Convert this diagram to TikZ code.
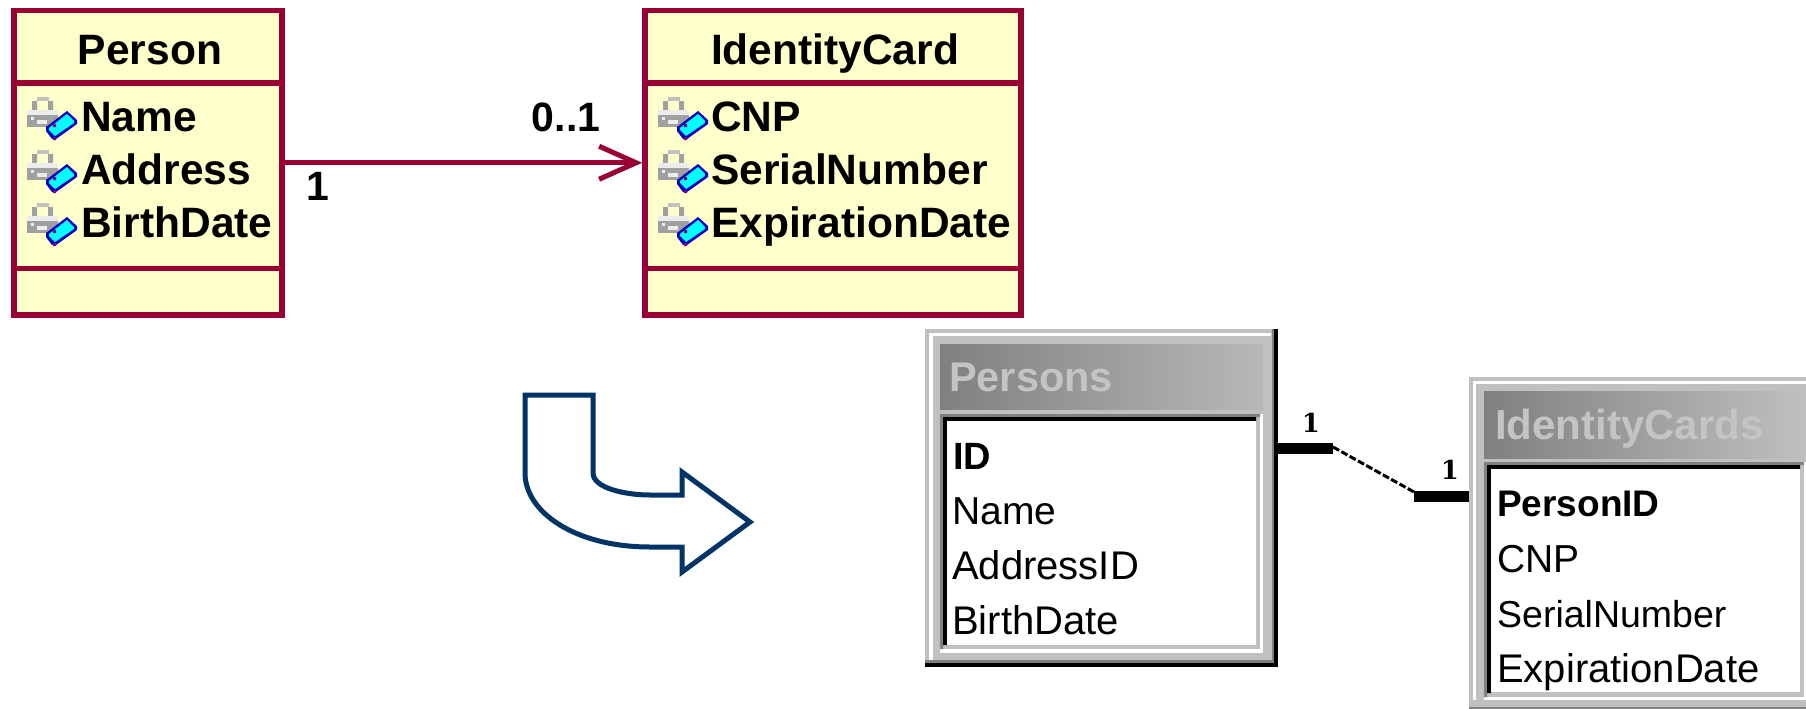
\documentclass[tikz,border=0pt]{standalone}
\usepackage{fontspec}
\setmainfont{Liberation Sans}
\newfontfamily\oneface{DejaVu Serif}
\usetikzlibrary{arrows.meta,shadings}
\definecolor{umlline}{HTML}{990033}
\definecolor{umlfill}{HTML}{FFFFCC}
\definecolor{bendblue}{HTML}{003366}
\definecolor{wgrey}{HTML}{C0C0C0}
\definecolor{wdark}{HTML}{808080}
\definecolor{wtitle}{HTML}{C4C4C4}
\definecolor{keyblue}{HTML}{0000C0}
\definecolor{keycyan}{HTML}{00FFFF}
\definecolor{keyviolet}{HTML}{800080}
\definecolor{icondark}{HTML}{A0A0A0}
\definecolor{iconmid}{HTML}{C0C0C0}
\definecolor{iconlight}{HTML}{ECECEC}
\newcommand{\fs}[1]{\fontsize{#1}{#1}\selectfont}
\tikzset{
  classbox/.style={draw=umlline,fill=umlfill,line width=5.5pt,inner sep=0pt,minimum height=304.5pt},
  divider/.style={draw=umlline,line width=5.5pt},
  umltext/.style={inner sep=0pt,anchor=base west,font=\fs{42.5}\bfseries},
  umltitle/.style={inner sep=0pt,anchor=base,font=\fs{42.5}\bfseries},
  multi/.style={inner sep=0pt,anchor=base,font=\fs{41}\bfseries},
  assoc/.style={draw=umlline,line width=5pt},
  tabletext/.style={inner sep=0pt,anchor=base west,font=\fs{39}},
  tablekey/.style={inner sep=0pt,anchor=base west,font=\fs{38}\bfseries},
  tabletitle/.style={inner sep=0pt,anchor=base west,text=wtitle,font=\fs{41.5}\bfseries},
  oneside/.style={inner sep=0pt,anchor=base,font=\fs{26}\oneface\bfseries},
  tablebox/.style={inner sep=0pt,outer sep=0pt,draw=none},
  relthick/.style={draw=black,line width=11pt},
  relthin/.style={draw=black,line width=3pt,dash pattern=on 7pt off 2.5pt},
  keyicon/.pic={
    \fill[iconmid] (10,0) rectangle (22,4);
    \fill[icondark] (5,4) rectangle (10,13) (21,4) rectangle (26,13);
    \fill[icondark] (0,13) rectangle (31,30);
    \fill[iconlight] (0,13) rectangle (31,18);
    \fill[iconlight] (10,23) rectangle (20,27);
    \fill[iconlight] (4,20) rectangle (7,23);
    \fill[keyblue] (40,14) -- (50,23) -- (50,27) -- (29,42) -- (25,42) -- (19,34) -- (19,30) -- cycle;
    \fill[keycyan] (40,17) -- (47,24) -- (47,26) -- (28,39) -- (22,33) -- (22,31) -- cycle;
    \fill[keyviolet] (26,27) rectangle (29,30) (26,40) rectangle (29,43);
  }
}
\begin{document}
\begin{tikzpicture}[x=1pt,y=-1pt]
\useasboundingbox (0,0) rectangle (1806,709);
\clip (0,0) rectangle (1806,709);
\fill[white] (0,0) rectangle (1806,709);

% UML classes
\node[classbox,minimum width=268pt] (person) at (148,162.75) {};
\draw[divider] (14,83) -- (282,83) (14,268.5) -- (282,268.5);
\node[umltitle] (persontitle) at (150,64.5) {Person};
\pic at (27,97) {keyicon};
\pic at (27,150) {keyicon};
\pic at (27,203) {keyicon};
\node[umltext] (pname) at (81,131.5) {Name};
\node[umltext] (paddr) at (81,184.5) {Address};
\node[umltext] (pbirth) at (81,237.5) {BirthDate};

\node[classbox,minimum width=376pt] (idcard) at (833,162.75) {};
\draw[divider] (645,83) -- (1021,83) (645,268.5) -- (1021,268.5);
\node[umltitle] (idtitle) at (835,64.5) {IdentityCard};
\pic at (658,97) {keyicon};
\pic at (658,150) {keyicon};
\pic at (658,203) {keyicon};
\node[umltext] (icnp) at (711,131.5) {CNP};
\node[umltext] (iserial) at (711,184.5) {SerialNumber};
\node[umltext] (iexp) at (711,237.5) {ExpirationDate};

% association
\draw[assoc,-{Straight Barb[length=37pt,width=33pt,line width=5pt]}] (person.east) -- (idcard.west);
\node[multi] (mright) at (566,131) {0..1};
\node[multi] (mleft) at (317.5,200) {1};

% block arrow
\draw[draw=bendblue,line width=5pt,miter limit=10,fill=white]
  (525,395) -- (593,395) -- (593,473)
  .. controls (593,488) and (625,495) .. (650,495)
  -- (682,495) -- (682,472) -- (750,522) -- (682,572) -- (682,547) -- (650,547)
  .. controls (575,547) and (525,512) .. (525,473) -- cycle;

% Persons table
\node[tablebox,minimum width=353pt,minimum height=338pt] (persons) at (1101.5,498) {};
\fill[black] (925,329) rectangle (1278,667);
\fill[wdark] (925,329) rectangle (1274,663);
\fill[wgrey] (925,329) rectangle (1272,660);
\fill[white] (929,333) rectangle (1271,660);
\fill[wgrey] (933,336) rectangle (1271,660);
\fill[left color=wdark,right color=black!28] (940,344) rectangle (1263,409);
\fill[white] (940,414) rectangle (1263,653);
\fill[wgrey] (940,414) rectangle (1260,649);
\fill[wdark] (940,414) rectangle (1260,417) (940,414) rectangle (943,649);
\fill[black] (943,417) rectangle (1256,421) (943,417) rectangle (947,645);
\fill[white] (947,421) rectangle (1256,645);
\node[tabletitle] (ptitle) at (949,391) {Persons};
\node[tablekey] (pid) at (953,469) {ID};
\node[tabletext] (pn) at (952,524) {Name};
\node[tabletext,font=\fs{40}] (pa) at (952,579) {AddressID};
\node[tabletext,font=\fs{40}] (pb) at (952,634) {BirthDate};

% IdentityCards table
\node[tablebox,minimum width=337pt,minimum height=332pt] (cards) at (1637.5,543) {};
\fill[wdark] (1469,377) rectangle (1806,709);
\fill[wgrey] (1469,377) rectangle (1806,707);
\fill[white] (1473,381) rectangle (1806,700);
\fill[wgrey] (1476,384) rectangle (1806,700);
\fill[left color=wdark,right color=black!25] (1484,391) rectangle (1806,458);
\fill[white] (1484,462) rectangle (1806,700);
\fill[wgrey] (1484,462) rectangle (1804,697);
\fill[wdark] (1484,462) rectangle (1804,465) (1484,462) rectangle (1487,697);
\fill[black] (1487,465) rectangle (1800,469) (1487,465) rectangle (1491,693);
\fill[white] (1491,469) rectangle (1800,692);
\node[tabletitle,font=\fs{42}\bfseries] (ctitle) at (1495,439) {IdentityCards};
\node[tablekey,font=\fs{37}\bfseries] (cid) at (1497,516) {PersonID};
\node[tabletext] (cc) at (1497,572) {CNP};
\node[tabletext,font=\fs{37.5}] (cs) at (1497,627) {SerialNumber};
\node[tabletext,font=\fs{40}] (ce) at (1497,682.5) {ExpirationDate};

% relationship
\coordinate (k1) at (1333,448.5);
\coordinate (k2) at (1414,496.5);
\coordinate (k1t) at (1333,447);
\coordinate (k2t) at (1414,492);
\draw[relthick] ([yshift=49.5pt]persons.east) -- (k1);
\draw[relthick] (k2) -- ([yshift=46.5pt]cards.west);
\draw[relthin] (k1t) -- (k2t);
\node[oneside] (r1) at (1311,432) {1};
\node[oneside] (r2) at (1450,479) {1};
\end{tikzpicture}
\end{document}
